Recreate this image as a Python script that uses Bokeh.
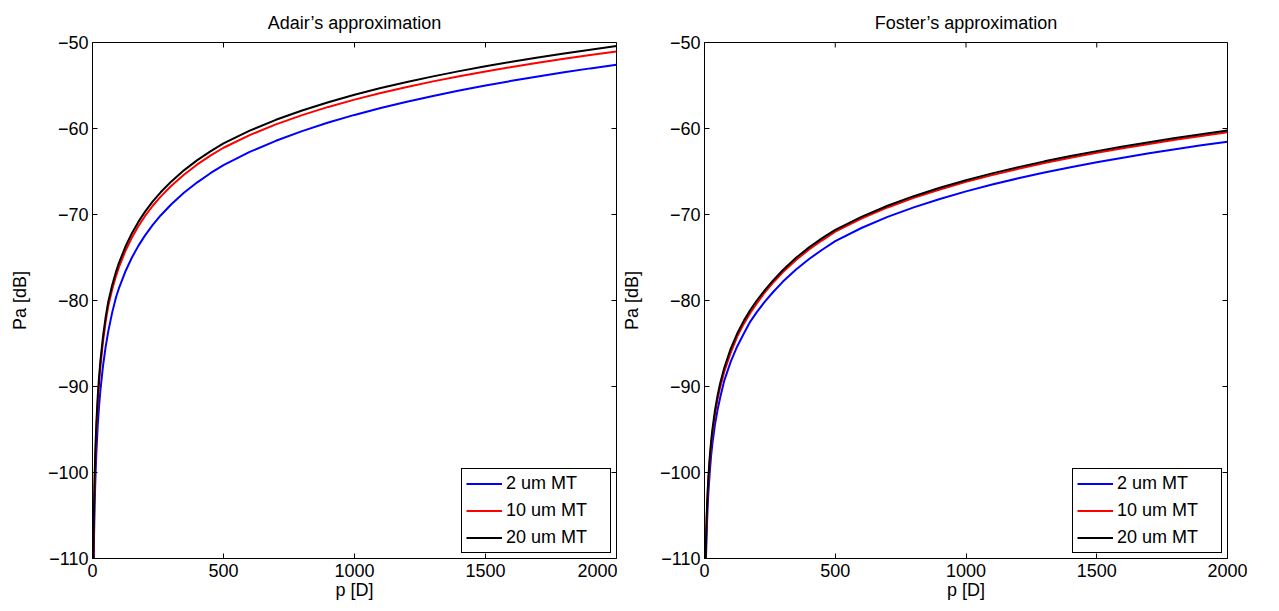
import math
from bokeh.plotting import figure
from bokeh.layouts import row
from bokeh.models import Range1d, FixedTicker, Legend, LegendItem
from bokeh.embed import file_html
from bokeh.resources import INLINE

# ---- data ----
p_left = [2, 3, 4, 5, 6, 8, 10, 12, 15, 20, 25, 30, 40, 50, 60, 75, 90, 100, 125, 150, 175, 200, 230, 260,
          300, 350, 400, 450, 500, 600, 700, 800, 900, 1000, 1100, 1200, 1300, 1400, 1500, 1600, 1700,
          1800, 1900, 2000]
adair_2um = [-118.79, -114.51, -111.48, -109.12, -107.20, -104.16, -101.80, -99.88, -97.53, -94.49, -92.28,
             -90.48, -87.63, -85.42, -83.62, -81.41, -79.60, -78.66, -76.66, -75.03, -73.65, -72.46, -71.21,
             -70.11, -68.83, -67.45, -66.26, -65.20, -64.26, -62.72, -61.43, -60.30, -59.31, -58.42, -57.62,
             -56.88, -56.21, -55.58, -55.00, -54.46, -53.95, -53.47, -53.01, -52.58]
adair_10um = [-116.87, -112.46, -109.34, -106.92, -104.94, -101.82, -99.40, -97.42, -94.99, -91.87, -89.59,
              -87.73, -84.80, -82.52, -80.66, -78.72, -77.13, -76.22, -74.28, -72.70, -71.36, -70.20, -68.98,
              -67.92, -66.68, -65.34, -64.18, -63.16, -62.24, -60.77, -59.52, -58.44, -57.49, -56.64, -55.87,
              -55.17, -54.52, -53.92, -53.37, -52.85, -52.35, -51.89, -51.46, -51.04]
adair_20um = [-115.13, -110.90, -107.91, -105.58, -103.68, -100.68, -98.35, -96.45, -94.13, -91.13, -88.90,
              -87.08, -84.21, -81.98, -80.16, -78.22, -76.63, -75.72, -73.78, -72.20, -70.86, -69.70, -68.48,
              -67.42, -66.18, -64.84, -63.68, -62.66, -61.74, -60.25, -58.99, -57.90, -56.94, -56.08, -55.30,
              -54.59, -53.94, -53.33, -52.77, -52.24, -51.75, -51.28, -50.84, -50.42]

p_right = [3, 4, 5, 6, 8, 10, 12, 15, 20, 25, 30, 40, 50, 60, 75, 100, 125, 150, 175, 200, 230, 260, 300,
           350, 400, 450, 500, 600, 700, 800, 900, 1000, 1100, 1200, 1300, 1400, 1500, 1600, 1700, 1800,
           1900, 2000]
foster_2um = [-115.04, -112.79, -111.05, -109.62, -107.37, -105.63, -104.00, -102.26, -100.01, -98.12,
              -96.69, -94.44, -92.70, -91.27, -89.38, -87.13, -85.34, -83.87, -82.45, -81.35, -80.17, -79.10,
              -77.80, -76.39, -75.17, -74.10, -73.09, -71.57, -70.28, -69.17, -68.19, -67.31, -66.52, -65.79,
              -65.12, -64.50, -63.93, -63.39, -62.89, -62.41, -61.96, -61.53]
foster_10um = [-113.49, -111.24, -109.50, -108.07, -105.82, -104.08, -102.65, -100.91, -98.66, -96.92,
               -95.49, -93.24, -91.50, -90.07, -88.33, -86.08, -84.19, -82.72, -81.45, -80.35, -79.07, -78.00,
               -76.70, -75.29, -74.07, -73.00, -71.99, -70.47, -69.18, -68.07, -67.09, -66.21, -65.42, -64.69,
               -64.02, -63.40, -62.83, -62.29, -61.79, -61.31, -60.86, -60.43]
foster_20um = [-113.04, -110.79, -109.05, -107.62, -105.37, -103.63, -102.20, -100.46, -98.21, -96.47,
               -95.04, -92.79, -91.05, -89.62, -87.88, -85.63, -83.84, -82.37, -81.10, -80.00, -78.82, -77.75,
               -76.45, -75.04, -73.82, -72.75, -71.79, -70.27, -68.98, -67.87, -66.89, -66.01, -65.22, -64.49,
               -63.82, -63.20, -62.63, -62.09, -61.59, -61.11, -60.66, -60.23]

series_labels = ["2 um MT", "10 um MT", "20 um MT"]
series_colors = ["#0000ff", "#ff0000", "#000000"]
titles = ["Adair\u2019s approximation", "Foster\u2019s approximation"]
x_ticks = [0, 500, 1000, 1500, 2000]
y_ticks = [-110, -100, -90, -80, -70, -60, -50]
x_lim = (0, 2000)
y_lim = (-110, -50)

FONT = "Liberation Sans"
FS = "18px"


def make_fig(title, xs, ys_list, border_left, border_right, frame_w):
    p = figure(width=border_left + frame_w + border_right, height=603,
               x_range=Range1d(*x_lim), y_range=Range1d(*y_lim),
               output_backend="svg", toolbar_location=None,
               min_border_left=border_left, min_border_right=border_right,
               min_border_top=42, min_border_bottom=45,
               x_axis_label="p [D]", y_axis_label="Pa [dB]")
    p.title.text = title
    p.title.align = "center"
    p.title.text_font = FONT
    p.title.text_font_size = FS
    p.title.text_font_style = "normal"
    p.title.text_color = "black"
    p.title.standoff = 19
    p.xgrid.visible = False
    p.ygrid.visible = False
    p.outline_line_color = "black"
    p.outline_line_width = 1
    p.outline_line_alpha = 1
    p.background_fill_color = "white"
    p.border_fill_color = "white"

    p.xaxis.ticker = FixedTicker(ticks=x_ticks)
    p.yaxis.ticker = FixedTicker(ticks=y_ticks)
    p.yaxis.major_label_overrides = {t: ("\u2212" + str(-t)) for t in y_ticks}
    for ax in (p.xaxis, p.yaxis):
        ax.major_tick_in = 5
        ax.major_tick_out = 0
        ax.minor_tick_line_color = None
        ax.axis_line_color = "black"
        ax.major_tick_line_color = "black"
        ax.major_label_text_font = FONT
        ax.major_label_text_font_size = FS
        ax.major_label_text_color = "black"
        ax.axis_label_text_font = FONT
        ax.axis_label_text_font_size = FS
        ax.axis_label_text_font_style = "normal"
        ax.axis_label_text_color = "black"
    p.xaxis.major_label_standoff = 5
    p.xaxis.axis_label_standoff = 0
    p.yaxis.major_label_standoff = 4
    p.yaxis.axis_label_standoff = 15

    # mirrored inside ticks on the top and right edges of the box (clipped to the frame)
    p.scatter(x_ticks, [y_lim[1]] * len(x_ticks), marker="dash", size=10, angle=math.pi / 2,
              line_color="black", line_width=1)
    p.scatter([x_lim[1]] * len(y_ticks), y_ticks, marker="dash", size=10,
              line_color="black", line_width=1)

    items = []
    for ys, lab, col in zip(ys_list, series_labels, series_colors):
        r = p.line(xs, ys, line_color=col, line_width=2)
        items.append(LegendItem(label=lab, renderers=[r]))
    leg = Legend(items=items, location="bottom_right")
    leg.label_text_font = FONT
    leg.label_text_font_size = FS
    leg.label_text_color = "black"
    leg.border_line_color = "black"
    leg.border_line_width = 1
    leg.border_line_alpha = 1
    leg.background_fill_color = "white"
    leg.background_fill_alpha = 1
    leg.glyph_width = 36
    leg.glyph_height = 21
    leg.label_height = 21
    leg.label_width = 100
    leg.label_standoff = 4
    leg.spacing = 6
    leg.padding = 4
    leg.margin = 5
    p.add_layout(leg)
    return p


p1 = make_fig(titles[0], p_left, [adair_2um, adair_10um, adair_20um], 92, 1, 524)
p2 = make_fig(titles[1], p_right, [foster_2um, foster_10um, foster_20um], 87, 20, 523)

layout = row(p1, p2)
open("out.html", "w").write(file_html(layout, INLINE))
